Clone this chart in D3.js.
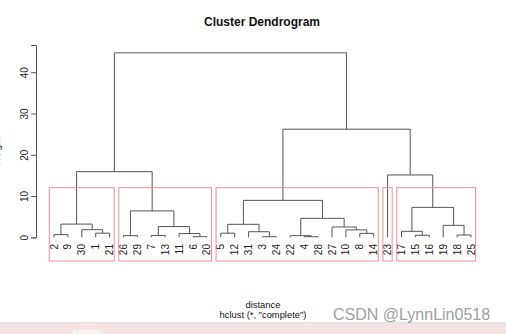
<!DOCTYPE html>
<html>
<head>
<meta charset="utf-8">
<script src="https://cdn.jsdelivr.net/npm/d3@7"></script>
<style>
body { margin: 0; background: #fff; }
svg { display: block; font-family: "Liberation Sans", Arial, sans-serif; }
</style>
</head>
<body>
<div id="chart"></div>
<script>
const width = 506
const height = 334

// leaves in the order they are drawn
const leafOrder = [2, 9, 30, 1, 21, 26, 29, 7, 13, 11, 6, 20, 5, 12, 31, 3, 24, 22, 4, 28, 27, 10, 8, 14, 23, 17, 15, 16, 19, 18, 25]

// hclust style merge matrix: negative = observation, positive = earlier merge row (1-based)
const merges = [
    [-6, -20], [-3, -24], [-4, -28], [-26, -29], [-7, -13],
    [-22, 3], [-15, -16], [-18, -25], [-2, -9], [-11, 1],
    [-8, -14], [-1, -21], [-5, -12], [-31, 2], [-17, 7],
    [-10, 11], [-30, 12], [-27, 16], [5, 10], [-19, 8],
    [9, 17], [13, 14], [6, 18], [4, 19], [15, 20],
    [22, 23], [-23, 25], [21, 24], [26, 27], [28, 29]
]
const heights = [0.15, 0.15, 0.15, 0.4, 0.45, 0.4, 0.5, 0.55, 0.65, 0.9,
    0.95, 1.0, 1.0, 1.35, 1.45, 1.8, 1.85, 2.5, 2.6, 2.9,
    3.2, 3.15, 4.6, 6.4, 7.25, 8.95, 15.1, 15.9, 26.2, 44.7]
const yTicks = [0, 10, 20, 30, 40]
const k = 5

const svg = d3.select("div#chart").append("svg").attr("width", width).attr("height", height)

const x = d3.scaleLinear().domain([1, leafOrder.length]).range([54, 471])
const y = d3.scaleLinear().domain([0, 46.6]).range([237.3, 45])
const plotBottom = 261

// positions of every node
const nodes = []
function pos(ref) {
    if (ref < 0) return { x: leafOrder.indexOf(-ref) + 1, h: 0 }
    return nodes[ref - 1]
}
merges.forEach((m, i) => {
    const a = pos(m[0]), b = pos(m[1])
    nodes.push({ x: (a.x + b.x) / 2, h: heights[i] })
})

function leavesOf(ref) {
    if (ref < 0) return [leafOrder.indexOf(-ref) + 1]
    const m = merges[ref - 1]
    return leavesOf(m[0]).concat(leavesOf(m[1]))
}

// dendrogram segments
const treeGroup = svg.append("g")
treeGroup.selectAll("path").data(merges).enter().append("path")
    .attr("d", (m, i) => {
        const a = pos(m[0]), b = pos(m[1])
        return `M${x(a.x)},${y(a.h)}V${y(heights[i])}H${x(b.x)}V${y(b.h)}`
    })
    .attr("fill", "none")
    .attr("stroke", "#555")
    .attr("stroke-width", 1)

// leaf labels
svg.append("g").selectAll("text").data(leafOrder).enter().append("text")
    .attr("transform", (d, i) => `translate(${x(i + 1)}, 244) rotate(-90)`)
    .attr("text-anchor", "end")
    .attr("dominant-baseline", "central")
    .style("font-size", "10px")
    .attr("fill", "#222")
    .text(d => d)

// rect.hclust k = 5
const n = merges.length
const topRows = d3.range(n - (k - 1), n)
const clusters = []
topRows.forEach(r => {
    merges[r].forEach(ref => {
        if (ref < 0 || !topRows.includes(ref - 1)) clusters.push(leavesOf(ref))
    })
})
const sortedH = heights.slice().sort((a, b) => b - a)
const cutH = (sortedH[k - 2] + sortedH[k - 1]) / 2
svg.append("g").selectAll("rect").data(clusters).enter().append("rect")
    .attr("x", d => x(d3.min(d) - 0.34))
    .attr("width", d => x(d3.max(d) + 0.33) - x(d3.min(d) - 0.34))
    .attr("y", y(cutH))
    .attr("height", plotBottom - y(cutH))
    .attr("fill", "none")
    .attr("stroke", "#ef8e98")
    .attr("stroke-width", 1)

// y axis
const yAxis = d3.axisLeft(y).tickValues(yTicks).tickSizeOuter(0).tickSize(5).tickFormat(d3.format("d"))
const yAxisGroup = svg.append("g").attr("transform", "translate(36, 0)").call(yAxis)
yAxisGroup.select(".domain").attr("stroke", "#555")
yAxisGroup.selectAll(".tick line").attr("stroke", "#555")
yAxisGroup.selectAll(".tick text")
    .attr("x", null).attr("dy", null)
    .attr("transform", "translate(-12, 0) rotate(-90)")
    .attr("text-anchor", "middle")
    .attr("dominant-baseline", "central")
    .style("font-size", "10px")
    .style("font-family", "Liberation Sans, Arial, sans-serif")
    .attr("fill", "#222")

// y title, mostly outside the left edge as in the screenshot
svg.append("text").attr("transform", "translate(-0.5, 151) rotate(-90)")
    .attr("text-anchor", "middle").style("font-size", "10px").attr("fill", "#222").text("Height")

// titles
svg.append("text").attr("x", 262).attr("y", 25.5).attr("text-anchor", "middle")
    .style("font-size", "12px").style("font-weight", "bold").attr("fill", "#111").text("Cluster Dendrogram")
svg.append("text").attr("x", 263).attr("y", 307.5).attr("text-anchor", "middle")
    .style("font-size", "9.4px").attr("fill", "#111").text("distance")
svg.append("text").attr("x", 263).attr("y", 318).attr("text-anchor", "middle")
    .style("font-size", "9.4px").attr("fill", "#111").text('hclust (*, "complete")')

// screenshot bottom strip and watermark
svg.append("rect").attr("x", 0).attr("y", 322).attr("width", width).attr("height", 1).attr("fill", "#e2e2e2")
svg.append("rect").attr("x", 0).attr("y", 323).attr("width", width).attr("height", 11).attr("fill", "#f5e4e3")
svg.append("rect").attr("x", 73).attr("y", 330).attr("width", 28).attr("height", 4).attr("fill", "#faf2f1")
svg.append("text").attr("x", 333).attr("y", 320).style("font-size", "16px").attr("fill", "#a0a0a0")
    .text("CSDN @LynnLin0518")
</script>
</body>
</html>
